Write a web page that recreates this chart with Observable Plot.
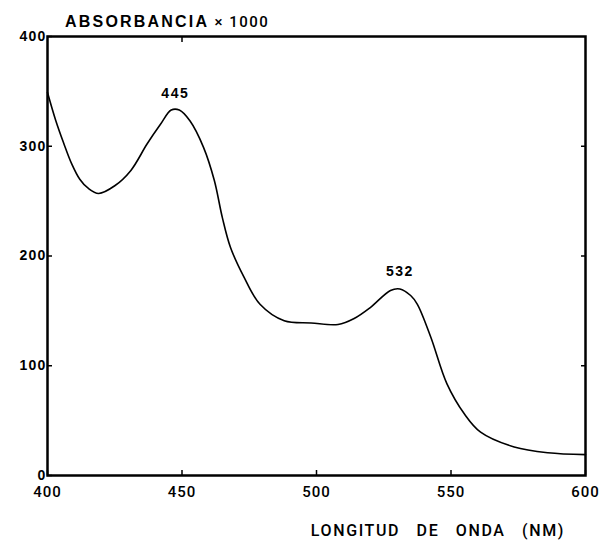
<!DOCTYPE html>
<html>
<head>
<meta charset="utf-8">
<script src="https://cdn.jsdelivr.net/npm/d3@7"></script>
<script src="https://cdn.jsdelivr.net/npm/@observablehq/plot@0.6"></script>
<style>
  html, body { margin: 0; padding: 0; background: #fff; }
  #wrap { position: relative; width: 605px; height: 541px; overflow: hidden; }
  #title { position: absolute; left: 65px; top: 14px; font-family: "Liberation Sans", Arial, sans-serif; font-size: 16px; line-height: 16px; font-weight: bold; letter-spacing: 2.2px; color: #000; white-space: nowrap; }
  #title .n { font-weight: 500; font-family: Roboto, "Liberation Sans", sans-serif; font-size: 15px; letter-spacing: 1.5px; }
  #xlabel { position: absolute; right: 40px; top: 523px; font-family: Roboto, "Liberation Sans", Arial, sans-serif; font-weight: 500; font-size: 16px; line-height: 16px; letter-spacing: 1.6px; word-spacing: 11px; color: #000; white-space: nowrap; }
  svg [aria-label="y-axis tick label"] text { letter-spacing: 1.2px; }
  svg [aria-label="x-axis tick label"] text { letter-spacing: 1px; }
  svg [aria-label="text"] text { letter-spacing: 1.5px; }
</style>
</head>
<body>
<div id="wrap">
  <div id="title">ABSORBANCIA<span class="n"> × 1000</span></div>
  <div id="xlabel">LONGITUD DE ONDA (NM)</div>
</div>
<script>
// Wavelength (nm) and absorbance (x1000)
const wavelength = [400, 403, 406, 409, 412, 415, 419, 425, 431, 437, 442, 446, 449, 453, 458, 462, 465, 468, 473, 479, 488, 498, 508, 514, 520, 527.5, 531, 535, 537.5, 542.5, 548.5, 555, 561, 573.5, 586, 600];
const absorbance = [349, 324, 303, 284, 270, 262, 257, 264, 278, 302, 320, 333, 333, 323, 299, 269, 235, 208, 181, 156, 141, 139, 137.6, 143, 153, 168.6, 170, 164, 156, 126, 83.5, 56, 39.5, 26, 20.7, 19];
const xTicks = [400, 450, 500, 550, 600];
const yTicks = [0, 100, 200, 300, 400];
const topTicks = [450];
const rightTicks = [100, 200, 300];
const peakX = [447.5, 531];
const peakY = [333, 170];
const peakLabel = ["445", "532"];

const data = wavelength.map((w, i) => ({w, a: absorbance[i]}));
const peaks = peakX.map((x, i) => ({x, y: peakY[i], label: peakLabel[i]}));

const chart = Plot.plot({
  width: 605,
  height: 541,
  marginLeft: 47,
  marginRight: 20,
  marginTop: 36,
  marginBottom: 66,
  x: {domain: [400, 600]},
  y: {domain: [0, 400]},
  style: {background: "white", color: "black", fontFamily: "'Liberation Sans', Arial, sans-serif"},
  marks: [
    Plot.axisX(xTicks, {anchor: "bottom", tickSize: -5, tickPadding: 16, label: null, fontSize: 15, fontWeight: 500, fontFamily: "Roboto, 'Liberation Sans', sans-serif", strokeWidth: 1.5}),
    Plot.axisX(topTicks, {anchor: "top", tickSize: -5, tickFormat: () => "", label: null, strokeWidth: 1.5}),
    Plot.axisY(yTicks, {anchor: "left", tickSize: -5, tickPadding: 6, label: null, fontSize: 14, fontWeight: "bold", strokeWidth: 1.5}),
    Plot.axisY(rightTicks, {anchor: "right", tickSize: -5, tickFormat: () => "", label: null, strokeWidth: 1.5}),
    Plot.frame({stroke: "black", strokeWidth: 2.5}),
    Plot.line(data, {x: "w", y: "a", curve: "catmull-rom", stroke: "black", strokeWidth: 1.6}),
    Plot.text(peaks, {x: "x", y: "y", text: "label", dy: -17, fontSize: 14, fontWeight: "bold", fill: "black"})
  ]
});
document.getElementById("wrap").prepend(chart);
</script>
</body>
</html>
